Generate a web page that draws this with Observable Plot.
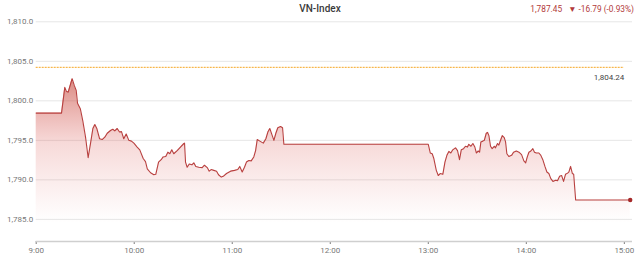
<!DOCTYPE html>
<html><head><meta charset="utf-8">
<script src="https://cdn.jsdelivr.net/npm/d3@7"></script>
<script src="https://cdn.jsdelivr.net/npm/@observablehq/plot@0.6"></script>
<style>
body{margin:0;background:#fff;font-family:Roboto,"Open Sans",sans-serif;}
#wrap{position:relative;width:640px;height:262px;overflow:hidden}
.t{position:absolute;white-space:nowrap;line-height:1}
</style></head><body>
<div id="wrap">
 <div id="chart"></div>
 <div class="t" style="left:0;width:640px;text-align:center;top:4px;font-size:10px;font-weight:500;color:#3a3a3a">VN-Index</div>
 <div class="t" style="right:6px;top:5px;font-size:8.3px;color:#b23a3a">1,787.45&nbsp;&nbsp;&nbsp;▼ -16.79 (-0.93%)</div>
</div>
<script>
const title = "VN-Index";
const refValue = 1804.24;
const yTicks = [1785, 1790, 1795, 1800, 1805, 1810];
const hourTicks = [9, 10, 11, 12, 13, 14, 15];
const minutesFromOpen = [0,15.5,17.5,18.5,19.6,22,23.3,24.5,25.3,27,28.5,30.2,31.8,33.4,34.7,35.9,37.1,38.8,40.4,42,43.5,45.5,46.9,48.1,49.6,51,52.2,53.6,55.1,56.7,58.3,59.8,61.8,63.4,65.5,66.9,68,70,72,73.2,74.9,76.5,77.7,79.3,80.6,81.8,83,84.2,86.3,88.3,90.4,90.8,91.4,92.4,93.7,95.3,96.5,97.7,99.5,101.6,103,104.7,105.9,107.1,108.7,110.4,111.6,113.3,114.5,116.5,119,121.4,123.4,124.6,126.1,127.5,128.7,130.2,131.6,133.2,134.3,135.3,136.9,139,140.6,141.8,143,144.5,145.5,146.7,147.9,149.6,150.8,151.6,240,241.2,242.4,243.4,244.9,246.1,247.3,248.9,250.2,251.4,252.6,253.8,255,256.7,257.9,259.1,260.2,261.6,262.8,264,264.8,266.1,267.3,268.5,269.4,270.6,271.4,272.2,273.4,274.3,275.5,276.3,277.1,278.1,279.1,280.4,281.1,282.4,283.2,284.4,285.3,286.5,287.3,288.1,289.3,291,292.2,293.9,295.5,297.1,298.5,299.6,300.6,301.6,302.8,304,305,306.1,307.7,308.9,310.1,311.4,312.6,313.8,315,316.3,317.9,319.1,320.4,321.6,322.8,324,325.3,326.1,327.1,328.2,329,330.2,363.6];
const values = [1798.45,1798.45,1801.7,1801.2,1801.1,1802.8,1801.95,1801.3,1799.7,1799.0,1797.5,1795.4,1792.8,1794.8,1796.5,1797.0,1796.5,1795.2,1795.1,1795.4,1795.9,1796.25,1796.4,1796.2,1796.5,1796.05,1796.1,1795.2,1795.8,1795.0,1794.9,1794.65,1794.15,1793.8,1792.7,1792.3,1791.4,1790.9,1790.65,1790.7,1792.25,1792.55,1792.9,1792.95,1793.5,1793.3,1793.8,1793.3,1793.7,1794.15,1794.6,1794.65,1792.25,1791.6,1792.0,1791.9,1792.15,1791.7,1791.6,1791.55,1791.85,1791.55,1791.1,1791.3,1791.2,1791.1,1790.65,1790.35,1790.45,1790.8,1791.1,1791.2,1791.3,1791.7,1791.0,1791.6,1792.25,1792.45,1792.4,1792.9,1793.7,1795.1,1794.9,1794.65,1795.2,1796.05,1796.5,1795.6,1795.0,1795.9,1796.6,1796.75,1796.6,1794.5,1794.5,1793.4,1793.3,1792.7,1791.2,1790.55,1790.8,1790.7,1792.25,1793.1,1793.6,1793.4,1793.8,1794.05,1793.7,1792.55,1793.8,1793.95,1794.25,1794.15,1794.5,1794.25,1794.6,1794.15,1793.4,1793.65,1793.5,1794.8,1794.9,1795.0,1795.9,1796.0,1795.6,1794.25,1793.95,1794.25,1794.05,1794.6,1794.4,1795.1,1795.6,1795.35,1794.8,1793.3,1792.95,1793.1,1793.5,1793.65,1793.5,1793.2,1792.4,1792.15,1792.9,1793.5,1793.65,1793.95,1793.5,1793.4,1793.4,1793.1,1792.55,1791.7,1791.0,1790.8,1790.15,1789.8,1789.95,1789.9,1790.45,1790.55,1789.8,1790.7,1790.85,1791.0,1791.7,1790.8,1790.7,1787.45,1787.45];

const yMin = 1782.2, yMax = 1810;
const t0 = new Date(2024, 0, 1, 9, 0);
const toDate = m => new Date(t0.getTime() + m * 60000);
const data = minutesFromOpen.map((m, i) => ({t: toDate(m), v: values[i]}));
const last = data[data.length - 1];
const lineColor = "#b8403f";

const plot = Plot.plot({
  width: 640, height: 262,
  marginLeft: 35.7, marginRight: 8, marginTop: 21.3, marginBottom: 21,
  style: {fontFamily: "Roboto, sans-serif", fontSize: "8px", color: "#777", background: "transparent"},
  x: {type: "time", domain: [toDate(0), toDate(365)],
      ticks: hourTicks.map(h => toDate((h - 9) * 60)),
      tickFormat: d3.timeFormat("%-H:%M"), tickSize: 3, tickPadding: 3, label: null},
  y: {domain: [yMin, yMax], ticks: yTicks, tickFormat: d3.format(",.1f"), tickSize: 0, tickPadding: 3, label: null},
  marks: [
    Plot.ruleY(yTicks, {stroke: "#e6e6e6", strokeWidth: 1}),
    Plot.areaY(data, {x: "t", y1: yMin, y2: "v", fill: "url(#areaGrad)", curve: "linear"}),
    Plot.line(data, {x: "t", y: "v", stroke: lineColor, strokeWidth: 1.1}),
    Plot.ruleY([refValue], {x1: toDate(0), x2: toDate(360), stroke: "#f5a623", strokeWidth: 1, strokeDasharray: "2,1"}),
    Plot.text([refValue], {x: toDate(360), y: d => d, text: d => d3.format(",.2f")(d), textAnchor: "end", dy: 10, fill: "#444", fontSize: 8}),
    Plot.ruleY([yMin], {stroke: "#cfcfcf", strokeWidth: 1.5}),
    Plot.dot([last], {x: "t", y: "v", r: 2.2, fill: "#a52a2a", stroke: "none"})
  ]
});

const ys = plot.scale("y");
const defs = d3.select(plot).insert("defs", ":first-child");
const g = defs.append("linearGradient").attr("id", "areaGrad")
  .attr("gradientUnits", "userSpaceOnUse")
  .attr("x1", 0).attr("x2", 0)
  .attr("y1", ys.apply(1803)).attr("y2", ys.apply(1784.5));
g.append("stop").attr("offset", 0).attr("stop-color", "#c0392b").attr("stop-opacity", 0.6);
g.append("stop").attr("offset", 0.45).attr("stop-color", "#d9534f").attr("stop-opacity", 0.22);
g.append("stop").attr("offset", 1).attr("stop-color", "#e06666").attr("stop-opacity", 0);
document.getElementById("chart").appendChild(plot);
</script>
</body></html>
